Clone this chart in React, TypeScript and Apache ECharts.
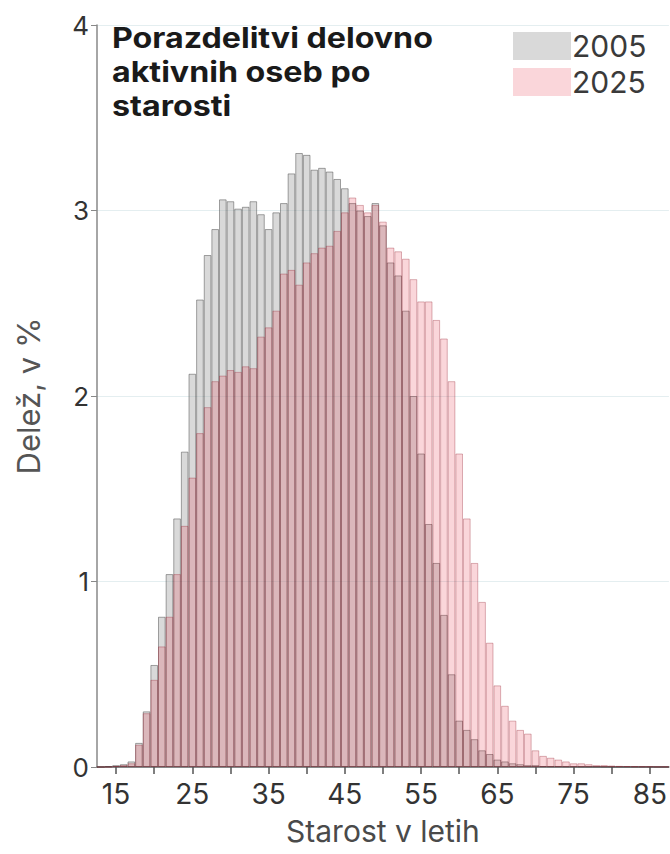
import React, { useEffect, useRef } from "react";
import * as echarts from "echarts";

const ages: string[] = [];
for (let a = 13; a <= 87; a++) ages.push(String(a));

// Share of working-active persons by age (%), ages 13..87
const share2005 = [
  0, 0.005, 0.01, 0.015, 0.03, 0.13, 0.3, 0.55, 0.81, 1.04,
  1.34, 1.7, 2.12, 2.52, 2.76, 2.9, 3.06, 3.05, 3.01, 3.02,
  3.05, 2.98, 2.9, 2.99, 3.04, 3.2, 3.31, 3.3, 3.22, 3.23,
  3.21, 3.17, 3.12, 3.04, 3.0, 2.97, 3.04, 2.92, 2.72, 2.65,
  2.46, 2.0, 1.69, 1.31, 1.1, 0.82, 0.5, 0.25, 0.2, 0.15,
  0.09, 0.07, 0.04, 0.03, 0.02, 0.015, 0.01, 0.01, 0.005, 0.004,
  0.004, 0.003, 0.003, 0.002, 0.002, 0.002, 0.001, 0.001, 0.001, 0.001,
  0.001, 0.001, 0.001, 0, 0,
];
const share2025 = [
  0, 0, 0.005, 0.01, 0.02, 0.12, 0.29, 0.47, 0.65, 0.81,
  1.04, 1.3, 1.56, 1.8, 1.94, 2.08, 2.11, 2.14, 2.13, 2.16,
  2.15, 2.32, 2.37, 2.46, 2.66, 2.68, 2.6, 2.72, 2.77, 2.8,
  2.81, 2.89, 2.99, 3.07, 3.03, 2.99, 3.03, 2.94, 2.8, 2.78,
  2.74, 2.63, 2.51, 2.51, 2.41, 2.31, 2.08, 1.69, 1.34, 1.1,
  0.89, 0.67, 0.44, 0.33, 0.25, 0.2, 0.18, 0.09, 0.06, 0.05,
  0.04, 0.03, 0.02, 0.02, 0.015, 0.01, 0.01, 0.008, 0.006, 0.005,
  0.004, 0.003, 0.003, 0.002, 0.002,
];
const seriesNames = ["2005", "2025"];
const titleLines = ["Porazdelitvi delovno", "aktivnih oseb po", "starosti"];
const xName = "Starost v letih";
const yName = "Delež, v %";

const FONT = "Inter";

export default function App() {
  const ref = useRef<HTMLDivElement>(null);
  useEffect(() => {
    if (!ref.current) return;
    const chart = echarts.init(ref.current, null, { renderer: "svg" });
    chart.setOption({
      animation: false,
      textStyle: { fontFamily: FONT },
      grid: { left: 97, right: 1, top: 25, bottom: 87, containLabel: false },
      legend: {
        data: seriesNames,
        orient: "vertical",
        left: 508,
        top: 26,
        itemWidth: 58,
        itemHeight: 28,
        itemGap: 6,
        icon: "rect",
        itemStyle: { borderWidth: 0 },
        textStyle: { fontSize: 30, color: "#3a3a3a", fontFamily: FONT, padding: [0, 0, 0, -4] },
      },
      graphic: [
        {
          type: "text",
          x: 112,
          y: 21,
          scaleX: 1.15,
          style: {
            text: titleLines.join("\n"),
            font: `bold 28px ${FONT}`,
            lineHeight: 34,
            fill: "#1a1a1a",
          },
        },
      ],
      xAxis: {
        type: "category",
        data: ages,
        boundaryGap: true,
        name: xName,
        nameLocation: "middle",
        nameGap: 49,
        nameTextStyle: { fontSize: 30, color: "#4a4a4a", fontFamily: FONT },
        axisLine: { show: true, lineStyle: { color: "#666", width: 1.5 } },
        axisTick: {
          show: true,
          alignWithLabel: true,
          length: 7,
          interval: (_i: number, v: string) => Number(v) % 5 === 0,
          lineStyle: { color: "#555", width: 1.5 },
        },
        axisLabel: {
          interval: (_i: number, v: string) => (Number(v) - 5) % 10 === 0,
          fontSize: 28,
          color: "#333",
          margin: 13,
          fontFamily: FONT,
        },
        splitLine: { show: false },
      },
      yAxis: {
        type: "value",
        min: 0,
        max: 4,
        interval: 1,
        name: yName,
        nameLocation: "middle",
        nameGap: 53,
        nameTextStyle: { fontSize: 31, color: "#555", fontFamily: FONT },
        axisLine: { show: true, lineStyle: { color: "#888", width: 1.5 } },
        axisTick: { show: true, length: 6, lineStyle: { color: "#888" } },
        axisLabel: { fontSize: 26, color: "#333", margin: 8, fontFamily: FONT },
        splitLine: { show: true, lineStyle: { color: "#e4eef0", width: 1 } },
      },
      series: [
        {
          name: seriesNames[0],
          type: "bar",
          data: share2005,
          barGap: "-100%",
          barCategoryGap: "0%",
          itemStyle: {
            color: "rgba(160,160,160,0.4)",
            borderColor: "rgba(60,60,60,0.45)",
            borderWidth: 1,
          },
        },
        {
          name: seriesNames[1],
          type: "bar",
          data: share2025,
          barGap: "-100%",
          barCategoryGap: "0%",
          itemStyle: {
            color: "rgba(230,50,70,0.2)",
            borderColor: "rgba(150,30,45,0.33)",
            borderWidth: 1,
          },
        },
      ],
    });
    return () => chart.dispose();
  }, []);
  return (
    <div
      ref={ref}
      style={{ position: "fixed", left: 0, top: 0, width: 670, height: 854, background: "#fff" }}
    />
  );
}
